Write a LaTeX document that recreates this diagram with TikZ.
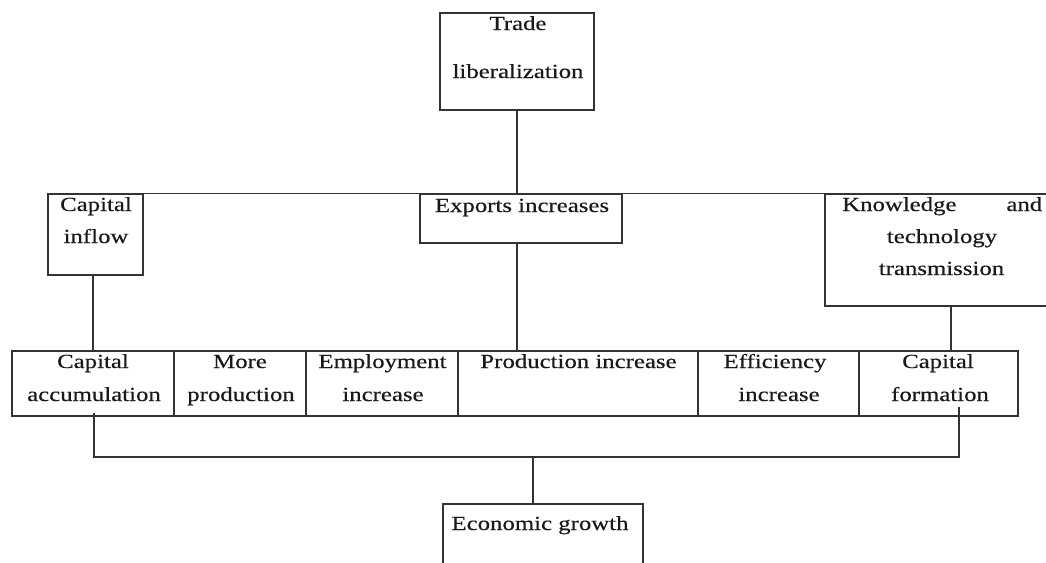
\documentclass[tikz,border=0pt]{standalone}
\usepackage{fontspec}
\setmainfont{Liberation Serif}[FakeStretch=1.24,FakeBold=0.4]
\tikzset{
  box/.style={draw=black!80, line width=1.5pt, inner sep=0pt, rectangle},
  conn/.style={draw=black!80, line width=1.5pt},
  txt/.style={anchor=base, inner sep=0pt, font=\fontsize{20}{24}\selectfont, text=black!90}
}
\begin{document}
\begin{tikzpicture}[x=1pt,y=-1pt]
\useasboundingbox (0,0) rectangle (1046,562);
\clip (0,0) rectangle (1046,562);
% boxes
\node[box, minimum width=154pt, minimum height=97pt] (trade) at (517,61.5) {};
\node[box, minimum width=95pt, minimum height=81pt] (inflow) at (95.5,234.5) {};
\node[box, minimum width=202pt, minimum height=49pt] (exports) at (521,218.5) {};
\node[box, minimum width=225pt, minimum height=112pt] (know) at (937.5,250) {};
\node[box, minimum width=162pt, minimum height=65pt] (accum) at (93,383.5) {};
\node[box, minimum width=132pt, minimum height=65pt] (more) at (240,383.5) {};
\node[box, minimum width=152pt, minimum height=65pt] (employ) at (382,383.5) {};
\node[box, minimum width=240pt, minimum height=65pt] (prod) at (578,383.5) {};
\node[box, minimum width=161pt, minimum height=65pt] (eff) at (778.5,383.5) {};
\node[box, minimum width=159pt, minimum height=65pt] (form) at (938.5,383.5) {};
\node[box, minimum width=200pt, minimum height=70pt] (econ) at (543,539) {};
% texts
\node[txt] (t1) at (518,30) {Trade};
\node[txt] (t2) at (518,78) {liberalization};
\node[txt] (ci1) at (96,211) {Capital};
\node[txt] (ci2) at (96,243) {inflow};
\node[txt] (ex1) at (522,212) {Exports increases};
\node[txt, anchor=base west] (kn1) at (842,211) {\makebox[200pt][s]{Knowledge and}};
\node[txt] (kn2) at (942,243) {technology};
\node[txt] (kn3) at (941.5,275) {transmission};
\node[txt] (ca1) at (93,368) {Capital};
\node[txt] (ca2) at (94,401) {accumulation};
\node[txt] (mp1) at (240,368) {More};
\node[txt] (mp2) at (241,401) {production};
\node[txt] (em1) at (382.5,368) {Employment};
\node[txt] (em2) at (383,401) {increase};
\node[txt] (pi1) at (578.5,368) {Production increase};
\node[txt] (ef1) at (775,368) {Efficiency};
\node[txt] (ef2) at (779,401) {increase};
\node[txt] (cf1) at (938,368) {Capital};
\node[txt] (cf2) at (940,401) {formation};
\node[txt] (eg1) at (540,530) {Economic growth};
% connectors
\draw[conn] (inflow.north west) -- (know.north east);
\draw[conn] (trade.south) -- (trade.south |- exports.north);
\draw[conn] (accum.north |- inflow.south) -- (accum.north);
\draw[conn] (trade.south |- exports.south) -- (trade.south |- prod.north);
\draw[conn] ([xshift=13.5pt]know.south) -- ([xshift=13.5pt]know.south |- form.north);
\coordinate (bus) at (533,457);
\draw[conn] ([xshift=1pt,yshift=4pt]accum.south) |- (bus) -| ([xshift=20.5pt,yshift=10pt]form.south);
\draw[conn] (bus) -- (bus |- econ.north);
\end{tikzpicture}
\end{document}
